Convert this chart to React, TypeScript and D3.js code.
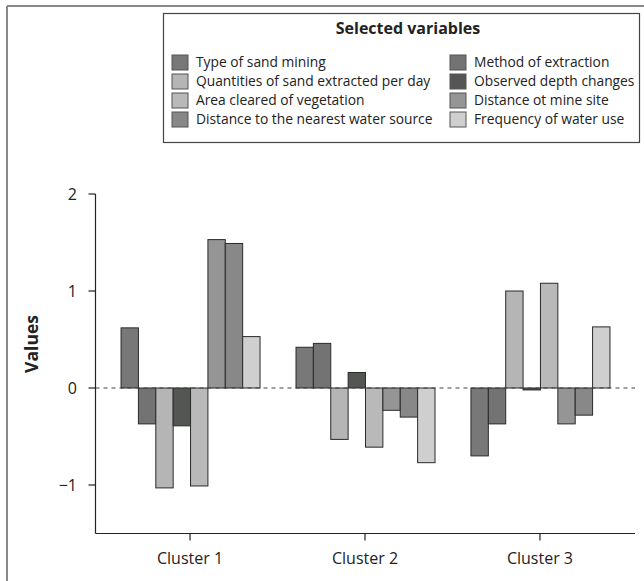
import React from "react";
import * as d3 from "d3";

const clusters = ["Cluster 1", "Cluster 2", "Cluster 3"];
const variables = [
  "Type of sand mining",
  "Method of extraction",
  "Quantities of sand extracted per day",
  "Observed depth changes",
  "Area cleared of vegetation",
  "Distance ot mine site",
  "Distance to the nearest water source",
  "Frequency of water use",
];
const colors = ["#787878", "#737373", "#b4b5b4", "#545654", "#b9b9b9", "#959595", "#888888", "#cfcfcf"];
const cluster1 = [0.62, -0.37, -1.03, -0.39, -1.01, 1.53, 1.49, 0.53];
const cluster2 = [0.42, 0.46, -0.53, 0.16, -0.61, -0.23, -0.3, -0.77];
const cluster3 = [-0.7, -0.37, 1.0, -0.02, 1.08, -0.37, -0.28, 0.63];
const seriesValues = [cluster1, cluster2, cluster3];
const yTicks = [-1, 0, 1, 2];

const FONT = "'Open Sans', sans-serif";

export default function App() {
  const W = 644, H = 581;
  const x0 = d3.scaleBand().domain(clusters).range([103, 627]).paddingInner(0.205).paddingOuter(0.1);
  const y = d3.scaleLinear().domain([0, 1]).range([388, 291]);
  const groupW = 139;
  const x1 = d3.scaleBand().domain(variables).range([0, groupW]).padding(0);
  const axisLeft = 95.5;
  const axisBottom = 533.5;
  const axisTop = y(2);
  const axisRight = 635;
  const ctr = (c: string) => x0(c)! + x0.bandwidth() / 2;

  return (
    <svg width={W} height={H} style={{ position: "absolute", left: 0, top: 0, background: "#fff" }}>
      <rect x={0} y={0} width={W} height={H} fill="#fff" />
      {/* outer frame */}
      <line x1={7} y1={6} x2={W} y2={6} stroke="#888" strokeWidth={2} />
      <line x1={7} y1={6} x2={7} y2={H} stroke="#888" strokeWidth={2} />

      {/* bars */}
      {clusters.map((c, ci) => (
        <g key={c} transform={`translate(${ctr(c) - groupW / 2},0)`}>
          {variables.map((v, vi) => {
            const val = seriesValues[ci][vi];
            const top = y(Math.max(0, val));
            const bot = y(Math.min(0, val));
            return (
              <rect
                key={v}
                x={x1(v)! + 0.5}
                y={top}
                width={x1.bandwidth()}
                height={Math.max(1, bot - top)}
                fill={colors[vi]}
                stroke="#2a2a2a"
                strokeWidth={1}
              />
            );
          })}
        </g>
      ))}

      {/* zero line */}
      <line x1={axisLeft} x2={axisRight} y1={y(0)} y2={y(0)} stroke="#444" strokeWidth={1.2} strokeDasharray="4,4" />

      {/* y axis */}
      <line x1={axisLeft} x2={axisLeft} y1={axisTop} y2={axisBottom} stroke="#222" strokeWidth={1.2} />
      {yTicks.map((t) => (
        <g key={t}>
          <line x1={axisLeft - 7} x2={axisLeft} y1={y(t)} y2={y(t)} stroke="#222" strokeWidth={1.2} />
          <text x={77} y={y(t)} dy="0.36em" textAnchor="end" fontFamily={FONT} fontSize={16} fill="#222">
            {t < 0 ? `\u2212${Math.abs(t)}` : t}
          </text>
        </g>
      ))}
      <text transform={`translate(38,344) rotate(-90)`} textAnchor="middle" fontFamily={FONT} fontSize={17.5} fontWeight="bold" fill="#222">
        Values
      </text>

      {/* x axis */}
      <line x1={axisLeft} x2={axisRight} y1={axisBottom} y2={axisBottom} stroke="#222" strokeWidth={1.2} />
      {clusters.map((c) => (
        <g key={c}>
          <line x1={ctr(c)} x2={ctr(c)} y1={axisBottom} y2={axisBottom + 7} stroke="#222" strokeWidth={1.2} />
          <text x={ctr(c)} y={564} textAnchor="middle" fontFamily={FONT} fontSize={16} fill="#222">
            {c}
          </text>
        </g>
      ))}

      {/* legend */}
      <rect x={163.5} y={13.5} width={476} height={129} fill="#fff" stroke="#444" strokeWidth={1.2} />
      <text x={408} y={34} textAnchor="middle" fontFamily={FONT} fontSize={16} fontWeight="bold" fill="#222">
        Selected variables
      </text>
      {variables.map((v, i) => {
        const col = i % 2;
        const row = Math.floor(i / 2);
        const sx = col === 0 ? 172 : 450;
        const cy = 62 + row * 19;
        return (
          <g key={v}>
            <rect x={sx} y={cy - 7} width={16} height={15} fill={colors[i]} stroke="#555" strokeWidth={1} />
            <text x={sx + 24} y={cy} dy="0.36em" fontFamily={FONT} fontSize={13.8} fill="#222">
              {v}
            </text>
          </g>
        );
      })}
    </svg>
  );
}
